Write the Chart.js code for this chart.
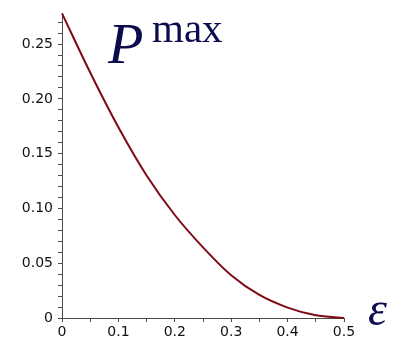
<!DOCTYPE html>
<html>
<head>
<meta charset="utf-8">
<script src="https://cdn.jsdelivr.net/npm/chart.js@4"></script>
<style>
  html, body { margin: 0; padding: 0; background: #ffffff; }
  #wrap { width: 397px; height: 342px; }
</style>
</head>
<body>
<div id="wrap"><canvas id="c" width="397" height="342"></canvas></div>
<script>
// Maximum probability as a function of the noise parameter epsilon
const epsilon = [0, 0.05, 0.1, 0.15, 0.2, 0.25, 0.3, 0.35, 0.4, 0.45, 0.5];
const pMax    = [0.278, 0.224, 0.174, 0.130, 0.094, 0.0645, 0.039, 0.021, 0.0095, 0.0025, 0];

const xTickLabels = ["0", "0.1", "0.2", "0.3", "0.4", "0.5"];
const yTickLabels = ["0", "0.05", "0.10", "0.15", "0.20", "0.25"];

const axisColor = '#4a4a4a';
const tickFont = { family: '"DejaVu Sans"', size: 14 };

// Curve labels: P^max near the top, epsilon beside the horizontal axis
const mathLabels = {
  id: 'mathLabels',
  afterDraw(chart) {
    const ctx = chart.ctx;
    ctx.save();
    ctx.fillStyle = '#0b0b4e';
    ctx.textBaseline = 'alphabetic';
    ctx.textAlign = 'left';
    ctx.font = 'italic 58px "Liberation Serif"';
    ctx.fillText('P', 108, 63);
    ctx.font = '41px "Liberation Serif"';
    ctx.fillText('max', 152, 42);
    ctx.font = 'italic 48px "Liberation Serif"';
    ctx.fillText('\u03b5', 368, 325);
    ctx.restore();
  }
};

new Chart(document.getElementById('c'), {
  type: 'line',
  data: {
    datasets: [{
      data: epsilon.map((e, i) => ({ x: e, y: pMax[i] })),
      borderColor: '#7d0a14',
      borderWidth: 2,
      pointRadius: 0,
      fill: false,
      cubicInterpolationMode: 'monotone',
      clip: false
    }]
  },
  options: {
    responsive: false,
    animation: false,
    devicePixelRatio: 1,
    layout: { padding: { left: 0, top: 10, right: 53, bottom: 0 } },
    plugins: { legend: { display: false }, tooltip: { enabled: false } },
    scales: {
      x: {
        type: 'linear',
        min: 0,
        max: 0.5,
        afterBuildTicks(scale) {
          const t = [];
          for (let i = 0; i <= 10; i++) t.push({ value: i * 0.05 });
          scale.ticks = t;
        },
        afterFit(scale) { scale.height = 24; },
        border: { display: true, color: axisColor, width: 1 },
        grid: { drawOnChartArea: false, drawTicks: true, tickLength: 4, tickColor: axisColor },
        ticks: {
          color: '#111',
          font: tickFont,
          padding: 2,
          maxRotation: 0,
          autoSkip: false,
          callback(value, index) {
            return index % 2 === 0 ? xTickLabels[index / 2] : '';
          }
        }
      },
      y: {
        type: 'linear',
        min: 0,
        max: 0.278,
        afterBuildTicks(scale) {
          const t = [];
          for (let i = 0; i <= 27; i++) t.push({ value: i * 0.01 });
          scale.ticks = t;
        },
        afterFit(scale) { scale.width = 62; },
        border: { display: true, color: axisColor, width: 1 },
        grid: { drawOnChartArea: false, drawTicks: true, tickLength: 4, tickColor: axisColor },
        ticks: {
          color: '#111',
          font: tickFont,
          padding: 5,
          autoSkip: false,
          callback(value, index) {
            return index % 5 === 0 ? yTickLabels[index / 5] : '';
          }
        }
      }
    }
  },
  plugins: [mathLabels]
});
</script>
</body>
</html>
